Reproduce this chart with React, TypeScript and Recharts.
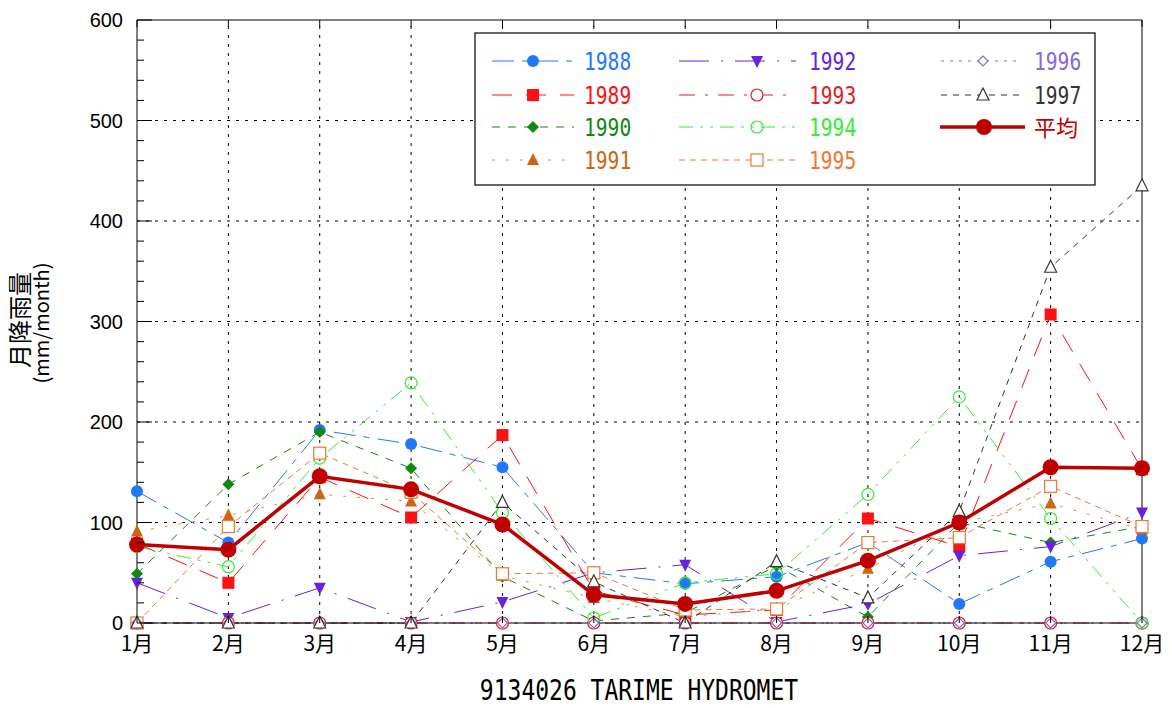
import React from "react";
import { LineChart, Line, XAxis, YAxis, ReferenceLine } from "recharts";

const MONTHS = ["1月", "2月", "3月", "4月", "5月", "6月", "7月", "8月", "9月", "10月", "11月", "12月"];
const Y_LABELS = [0, 100, 200, 300, 400, 500, 600];
const Y_TICKS = Array.from({ length: 31 }, (_, i) => i * 20);
const GRID_Y = [100, 200, 300, 400, 500];

const r1988 = [131, 80, 192, 178, 155, 50, 39, 46, 80, 19, 61, 84];
const r1989 = [79, 40, 145, 105, 187, 32, 8, 13, 104, 76, 307, 153];
const r1990 = [49, 138, 190, 154, 46, 2, 10, 57, 6, 100, 80, 96];
const r1991 = [91, 107, 128, 121, 47, 25, 6, 14, 54, 100, 119, 93];
const r1992 = [40, 5, 35, 1, 21, 50, 58, 1, 19, 67, 76, 110];
const r1993 = [0, 0, 0, 0, 0, 0, 0, 0, 0, 0, 0, 0];
const r1994 = [76, 56, 164, 239, 110, 5, 40, 49, 128, 225, 104, 0];
const r1995 = [0, 96, 169, 130, 49, 50, 13, 14, 80, 85, 136, 96];
const r1996 = [0, 0, 0, 0, 0, 0, 0, 0, 0, 0, 0, 0];
const r1997 = [0, 0, 0, 0, 120, 41, 0, 61, 25, 111, 354, 435];
const avg = [78, 73, 146, 133, 98, 28, 19, 32, 62, 100, 155, 154];

const TITLE = "9134026 TARIME HYDROMET";

// plot box (px) - set by margins below
const W = 1172, H = 708;
const PL = 137, PR = 1142, PT = 20, PB = 623;

type Shape = "circle" | "square" | "diamond" | "tri" | "triDown";

const series = [
  { key: "1988", values: r1988, color: "#2277ff", text: "#2277ff", dash: "22 8 6 8", shape: "circle" as Shape, filled: true },
  { key: "1989", values: r1989, color: "#ff1111", text: "#ff1111", dash: "20 14", shape: "square" as Shape, filled: true },
  { key: "1990", values: r1990, color: "#118811", text: "#118811", dash: "8 8", shape: "diamond" as Shape, filled: true },
  { key: "1991", values: r1991, color: "#f08a40", text: "#cc6611", mark: "#cc6611", dash: "3 11", shape: "tri" as Shape, filled: true },
  { key: "1992", values: r1992, color: "#6622dd", text: "#6622dd", dash: "30 12 2 12", shape: "triDown" as Shape, filled: true },
  { key: "1993", values: r1993, color: "#e02222", text: "#dd2222", dash: "16 10 3 10", shape: "circle" as Shape, filled: false },
  { key: "1994", values: r1994, color: "#33ee33", text: "#33ee33", dash: "14 7 3 7 3 7", shape: "circle" as Shape, filled: false },
  { key: "1995", values: r1995, color: "#f07733", text: "#ee7733", dash: "6 5", shape: "square" as Shape, filled: false },
  { key: "1996", values: r1996, color: "#8866dd", text: "#8866dd", dash: "3 6", shape: "diamond" as Shape, filled: false },
  { key: "1997", values: r1997, color: "#333333", text: "#333333", dash: "6 6", shape: "tri" as Shape, filled: false },
];

const data = MONTHS.map((m, i) => {
  const row: any = { month: m, avg: avg[i] };
  series.forEach((s) => (row["y" + s.key] = s.values[i]));
  return row;
});

function Marker({ cx, cy, shape, color, filled, r = 6 }: any) {
  const fill = filled ? color : shape === "circle" && color === "#33ee33" ? "none" : "#fff";
  const sw = filled ? 0 : 1.2;
  if (shape === "circle") return <circle cx={cx} cy={cy} r={r} fill={fill} stroke={color} strokeWidth={sw} />;
  if (shape === "square") return <rect x={cx - r} y={cy - r} width={r * 2} height={r * 2} fill={fill} stroke={color} strokeWidth={sw} />;
  if (shape === "diamond") {
    const d = filled ? r : r - 1;
    return <polygon points={`${cx},${cy - d} ${cx + d},${cy} ${cx},${cy + d} ${cx - d},${cy}`} fill={fill} stroke={color} strokeWidth={sw} />;
  }
  if (shape === "tri") return <polygon points={`${cx},${cy - r - 1} ${cx + r},${cy + r - 1} ${cx - r},${cy + r - 1}`} fill={fill} stroke={color} strokeWidth={sw} />;
  return <polygon points={`${cx - r},${cy - r + 1} ${cx + r},${cy - r + 1} ${cx},${cy + r + 1}`} fill={fill} stroke={color} strokeWidth={sw} />;
}

const LeftTick = (props: any) => {
  const { y, payload } = props;
  const major = payload.value % 100 === 0;
  return (
    <g>
      <line x1={PL} x2={PL + (major ? 15 : 7)} y1={y} y2={y} stroke="#000" />
      {major && (
        <text x={PL - 14} y={y} dy="0.36em" textAnchor="end" fontFamily="Liberation Sans, Arial" fontSize={20} fill="#000">
          {payload.value}
        </text>
      )}
    </g>
  );
};

const RightTick = (props: any) => {
  const { y, payload } = props;
  const major = payload.value % 100 === 0;
  return <line x1={PR} x2={PR - (major ? 15 : 7)} y1={y} y2={y} stroke="#000" />;
};

const BottomTick = (props: any) => {
  const { x, payload } = props;
  return (
    <g>
      <line x1={x} x2={x} y1={PB} y2={PB - 7} stroke="#000" />
      <text x={x} y={PB + 28} textAnchor="middle" fontFamily="Noto Sans CJK JP" fontSize={21} fill="#000">
        {payload.value}
      </text>
    </g>
  );
};

const TopTick = (props: any) => {
  const { x } = props;
  return <line x1={x} x2={x} y1={PT} y2={PT + 7} stroke="#000" />;
};

const LEG_ROWS = [29, 63, 95, 128];
const LEG_COLS = [
  { x1: 18, x2: 100, m: 59, t: 110 },
  { x1: 205, x2: 322, m: 283, t: 335 },
  { x1: 467, x2: 547, m: 509, t: 560 },
];

function LegendBox() {
  const items = series.map((s, i) => ({ s, col: Math.floor(i / 4), row: i % 4 }));
  return (
    <svg width={622} height={154} style={{ position: "absolute", left: 474, top: 32 }}>
      <rect x={1} y={1} width={620} height={152} fill="#fff" stroke="#000" strokeWidth={1.2} />
      {items.map(({ s, col, row }) => {
        const c = LEG_COLS[col];
        const y = LEG_ROWS[row];
        return (
          <g key={s.key}>
            <line x1={c.x1} x2={c.x2} y1={y} y2={y} stroke={s.color} strokeDasharray={s.dash} />
            <Marker cx={c.m} cy={y} shape={s.shape} color={(s as any).mark || s.color} filled={s.filled} />
            <text transform={`translate(${c.t},${y + 9}) scale(0.98,1.25)`} fontFamily="DejaVu Sans Mono" fontSize={20} fill={s.text}>
              {s.key}
            </text>
          </g>
        );
      })}
      <line x1={466} x2={551} y1={LEG_ROWS[2]} y2={LEG_ROWS[2]} stroke="#c00000" strokeWidth={3.5} />
      <circle cx={510} cy={LEG_ROWS[2]} r={8} fill="#c00000" />
      <text x={560} y={LEG_ROWS[2] + 9} fontFamily="Noto Sans CJK JP" fontSize={22} fill="#c00000">
        平均
      </text>
    </svg>
  );
}

export default function App() {
  return (
    <div style={{ position: "absolute", left: 0, top: 0, width: W, height: H, background: "#fff" }}>
      <LineChart width={W} height={H} data={data} margin={{ top: 0, right: 20, left: 77, bottom: 45 }}>
        <XAxis dataKey="month" interval={0} height={40} padding={{ left: 0, right: 0 }} axisLine={{ stroke: "#000" }} tickLine={false} tick={<BottomTick />} />
        <XAxis xAxisId="top" dataKey="month" orientation="top" interval={0} height={20} padding={{ left: 0, right: 0 }} axisLine={{ stroke: "#000" }} tickLine={false} tick={<TopTick />} />
        <YAxis type="number" domain={[0, 600]} ticks={Y_TICKS} interval={0} width={60} axisLine={{ stroke: "#000" }} tickLine={false} tick={<LeftTick />} />
        <YAxis yAxisId="r" orientation="right" type="number" domain={[0, 600]} ticks={Y_TICKS} interval={0} width={10} axisLine={{ stroke: "#000" }} tickLine={false} tick={<RightTick />} />
        {GRID_Y.map((v) => (
          <ReferenceLine key={"gy" + v} y={v} stroke="#000" strokeDasharray="3 6" />
        ))}
        {MONTHS.slice(1, 11).map((m) => (
          <ReferenceLine key={"gx" + m} x={m} stroke="#000" strokeDasharray="3 6" />
        ))}
        {series.map((s) => (
          <Line
            key={s.key}
            dataKey={"y" + s.key}
            stroke={s.color}
            strokeWidth={1}
            strokeDasharray={s.dash}
            isAnimationActive={false}
            activeDot={false}
            dot={(p: any) => <Marker key={s.key + p.index} cx={p.cx} cy={p.cy} shape={s.shape} color={(s as any).mark || s.color} filled={s.filled} />}
          />
        ))}
        <Line
          dataKey="avg"
          stroke="#c00000"
          strokeWidth={3.5}
          isAnimationActive={false}
          activeDot={false}
          dot={(p: any) => <circle key={"avg" + p.index} cx={p.cx} cy={p.cy} r={8} fill="#c00000" />}
        />
      </LineChart>
      <LegendBox />
      <svg width={W} height={H} style={{ position: "absolute", left: 0, top: 0, pointerEvents: "none" }}>
        <text transform={`translate(29,320) rotate(-90)`} textAnchor="middle" fontFamily="Noto Sans CJK JP" fontSize={24} fill="#000">
          月降雨量
        </text>
        <text transform={`translate(49,323) rotate(-90)`} textAnchor="middle" fontFamily="Noto Sans CJK JP" fontSize={20} fill="#000">
          (mm/month)
        </text>
        <text transform={`translate(639,700) scale(1,1.25)`} textAnchor="middle" fontFamily="DejaVu Sans Mono" fontSize={23} fill="#000">
          {TITLE}
        </text>
      </svg>
    </div>
  );
}
